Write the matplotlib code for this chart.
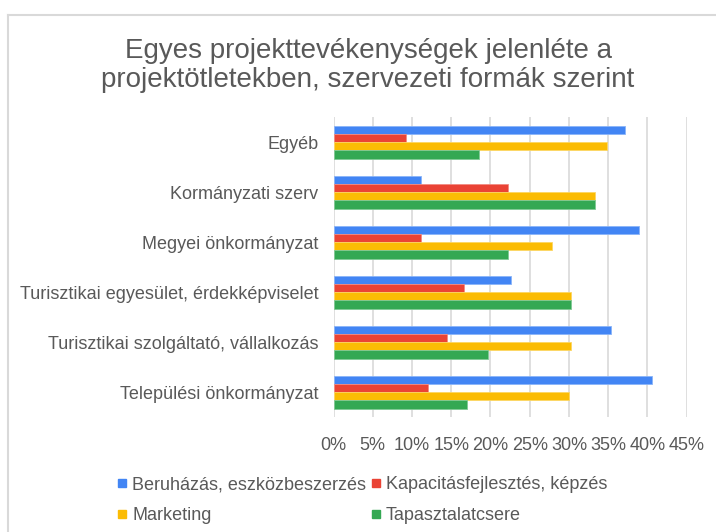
import numpy as np
import matplotlib.pyplot as plt
from matplotlib.lines import Line2D

plt.rcParams["font.family"] = ["Liberation Sans", "DejaVu Sans"]

CATEGORIES = [
    "Egyéb",
    "Kormányzati szerv",
    "Megyei önkormányzat",
    "Turisztikai egyesület, érdekképviselet",
    "Turisztikai szolgáltató, vállalkozás",
    "Települési önkormányzat",
]
SERIES = [
    "Beruházás, eszközbeszerzés",
    "Kapacitásfejlesztés, képzés",
    "Marketing",
    "Tapasztalatcsere",
]
BERUHAZAS = [37.2, 11.1, 38.9, 22.6, 35.4, 40.6]
KAPACITAS = [9.3, 22.2, 11.1, 16.6, 14.4, 12.1]
MARKETING = [34.9, 33.3, 27.8, 30.2, 30.2, 30.0]
TAPASZTALAT = [18.6, 33.3, 22.2, 30.2, 19.7, 17.0]
X_TICKS = [0, 5, 10, 15, 20, 25, 30, 35, 40, 45]

COLORS = ["#4285F4", "#EA4335", "#FBBC04", "#34A853"]
EDGES = ["#8AB4F8", "#F28B82", "#FDD663", "#81C995"]
TEXT = "#595959"
GRID = "#D9D9D9"

fig = plt.figure(figsize=(7.16, 5.32), dpi=100, facecolor="white")
ax = fig.add_axes([0.4658, 0.216, 0.4932, 0.564])

values = [BERUHAZAS, KAPACITAS, MARKETING, TAPASZTALAT]
y = np.arange(len(CATEGORIES))
h = 0.165
for i, (vals, col, ec) in enumerate(zip(values, COLORS, EDGES)):
    off = (i - 1.5) * h
    ax.barh(y + off, vals, height=h, color=col, edgecolor=ec,
            linewidth=0.6, zorder=3)

ax.set_ylim(len(CATEGORIES) - 0.5, -0.5)
ax.set_xlim(0, 45)
ax.set_xticks(X_TICKS)
ax.set_xticklabels([f"{t}%" for t in X_TICKS])
ax.set_yticks(y)
ax.set_yticklabels(CATEGORIES)
ax.tick_params(axis="both", length=0, labelsize=13, colors=TEXT)
ax.tick_params(axis="x", pad=14)
ax.tick_params(axis="y", pad=11)
ax.grid(axis="x", color=GRID, linewidth=1.2, zorder=0)
for s in ax.spines.values():
    s.set_visible(False)

fig.text(0.514, 0.877, "Egyes projekttevékenységek jelenléte a\nprojektötletekben, szervezeti formák szerint",
         ha="center", va="center", fontsize=20, color=TEXT, linespacing=1.15)

# legend filled row by row, as in the original
handles = [Line2D([], [], marker="s", linestyle="none", markersize=6,
                  markerfacecolor=c, markeredgecolor=c) for c in COLORS]
order = [0, 2, 1, 3]
fig.legend([handles[k] for k in order], [SERIES[k] for k in order],
           loc="upper left", bbox_to_anchor=(0.163, 0.105),
           ncol=2, frameon=False, fontsize=13, labelcolor=TEXT,
           handlelength=0.6, handletextpad=0.25, columnspacing=0.25,
           labelspacing=0.78, borderaxespad=0, borderpad=0)

# light frame of the chart area (cut off at right and bottom)
fig.add_artist(Line2D([8 / 716, 8 / 716], [0, 1 - 15 / 532], transform=fig.transFigure,
                      color=GRID, linewidth=1.5))
fig.add_artist(Line2D([8 / 716, 1], [1 - 15 / 532, 1 - 15 / 532], transform=fig.transFigure,
                      color=GRID, linewidth=1.5))

fig.savefig("out.png", dpi=100, facecolor="white")
